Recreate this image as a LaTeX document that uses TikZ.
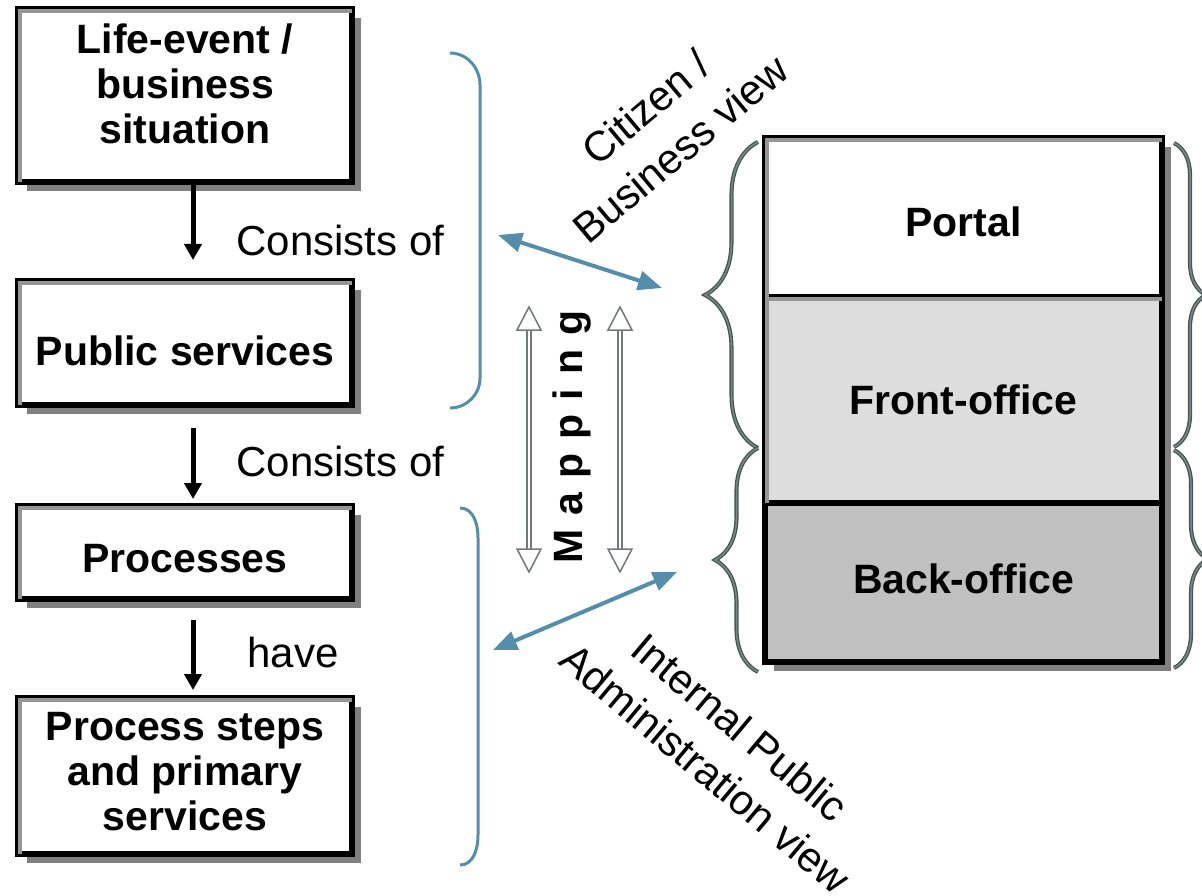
\documentclass[tikz,border=0pt]{standalone}
\usepackage{fontspec}
\setmainfont{Liberation Sans}
\usetikzlibrary{arrows.meta,decorations.pathreplacing,shadows}

\definecolor{shadowGray}{RGB}{128,128,128}
\definecolor{bevelGray}{RGB}{150,150,150}
\definecolor{frontFill}{RGB}{221,221,221}
\definecolor{backFill}{RGB}{192,192,192}
\definecolor{viewBlue}{RGB}{84,142,170}
\definecolor{braceDark}{RGB}{70,84,84}
\definecolor{braceLight}{RGB}{122,136,136}
\definecolor{mapGray}{RGB}{112,122,122}

\tikzset{
    every picture/.style={
        line width=1pt
    },
    % Style for the bold boxes
    level box/.style={
        draw=black, fill=white, line width=6pt,
        minimum width=334pt, inner sep=0pt, align=center,
        font=\fontsize{41}{45}\selectfont\bfseries,
        drop shadow={shadow xshift=9pt, shadow yshift=-9pt, fill=shadowGray, opacity=1}
    },
    layer box/.style={
        level box,
        minimum width=397pt
    },
    bevel line/.style={
        draw=bevelGray, line width=4pt
    },
    % Style for the plain labels
    link label/.style={
        anchor=west, inner sep=0pt,
        font=\fontsize{42}{50}\selectfont
    },
    view label/.style={
        align=center,
        font=\fontsize{42}{54}\selectfont
    },
    mapping label/.style={
        rotate=90,
        font=\fontsize{41}{45}\selectfont\bfseries,
        execute at begin node={\spaceskip=14pt\relax}
    },
    level arrow/.style={
        -{Triangle[length=16pt,width=17pt]}, line width=5pt
    },
    view arrow/.style={
        {Triangle[length=24pt,width=19pt]}-{Triangle[length=24pt,width=19pt]},
        draw=viewBlue, line width=4pt
    },
    view bracket/.style={
        draw=viewBlue, line width=3pt
    },
    layer brace/.style={
        decorate, decoration={brace, amplitude=#1},
        draw=braceDark, double=braceLight, double distance=1.5pt, line width=1.3pt
    },
    map line/.style={
        draw=mapGray, line width=1.5pt
    }
}

\begin{document}
\begin{tikzpicture}[x=1pt,y=-1pt]

% Set the canvas size
\path[use as bounding box] (0,0) rectangle (1202,896);

% Boxes on the left
\node[level box, minimum height=173pt, text height=97pt, text depth=0pt] (lifeEvent) at (185,95.5) {Life-event /\\business\\situation};
\node[level box, minimum height=124pt, text height=44pt, text depth=0pt] (publicServices) at (185,343) {Public services};
\node[level box, minimum height=93pt, text height=39pt, text depth=0pt] (processes) at (185,552.5) {Processes};
\node[level box, minimum height=156pt, text height=108pt, text depth=0pt] (processSteps) at (185,776) {Process steps\\and primary\\services};

% Arrows between the boxes with their labels
\draw[level arrow, shorten >=18pt] ([xshift=8pt]lifeEvent.south) -- ([xshift=8pt]publicServices.north);
\draw[level arrow, shorten <=20pt, shorten >=4pt] ([xshift=8pt]publicServices.south) -- ([xshift=8pt]processes.north);
\draw[level arrow, shorten <=18pt, shorten >=5pt] ([xshift=8pt]processes.south) -- ([xshift=8pt]processSteps.north);

\node[link label] (consistsUpper) at (236,240) {Consists of};
\node[link label] (consistsLower) at (236,461) {Consists of};
\node[link label] (have) at (247,652) {have};

% Brackets grouping the boxes
\draw[view bracket] (450,53) to[out=0,in=90] (480,85) -- (480,378) to[out=-90,in=0] (450,408);
\draw[view bracket] (460,508) to[out=0,in=90] (478,538) -- (478,835) to[out=-90,in=0] (460,865);

% Layers on the right
\node[layer box, minimum height=159pt, text height=38pt, text depth=0pt] (portal) at (963.5,217.5) {Portal};
\node[layer box, fill=frontFill, minimum height=206pt] (frontOffice) at (963.5,400) {Front-office};
\node[layer box, fill=backFill, minimum height=159pt, text height=22pt, text depth=0pt] (backOffice) at (963.5,582.5) {Back-office};

% Inner bevel of the boxes
\foreach \boxname in {lifeEvent,publicServices,processes,processSteps,portal,frontOffice}
    \draw[bevel line] ([shift={(5pt,3pt)}]\boxname.south west) |- ([shift={(-3pt,-5pt)}]\boxname.north east);

% Braces round the layers
\draw[layer brace=53pt] (758,448) -- (758,142);
\draw[layer brace=43pt] (758,672) -- (758,448);
\draw[layer brace=32pt] (1174,143) -- (1174,447);
\draw[layer brace=34pt] (1174,450) -- (1174,668);

% The two views
\coordinate (citizenSide) at (498,235);
\coordinate (portalSide) at (662,288);
\coordinate (adminSide) at (493,650);
\coordinate (backSide) at (677,572);
\draw[view arrow] (citizenSide) -- (portalSide);
\draw[view arrow] (adminSide) -- (backSide);

\node[view label, rotate=40] (citizenView) at (663,128) {Citizen /\\Business view};
\node[view label, rotate=-40] (adminView) at (723,748) {Internal Public\\Administration view};

% Mapping arrows
\foreach \x/\name in {529/mapLeft, 620/mapRight} {
    \coordinate (\name top) at (\x,307);
    \coordinate (\name bottom) at (\x,572);
    \draw[map line, double=white, double distance=2.5pt] ([yshift=-22pt]\name top) -- ([yshift=22pt]\name bottom);
    \draw[map line, fill=white] (\name top) -- ++(-12,23) -- ++(24,0) -- cycle;
    \draw[map line, fill=white] (\name bottom) -- ++(-12,-23) -- ++(24,0) -- cycle;
}
\node[mapping label] (mapping) at (572,437) {M a p p i n g};

\end{tikzpicture}
\end{document}
